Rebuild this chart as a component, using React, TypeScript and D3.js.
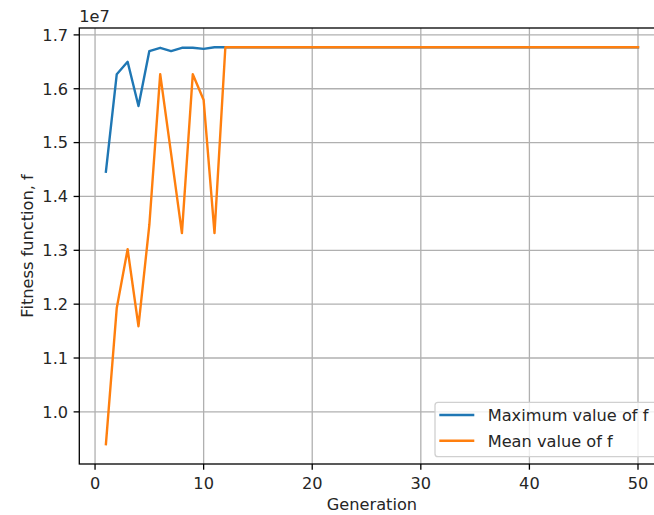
import React from "react";
import * as d3 from "d3";

const generations: number[] = Array.from({ length: 50 }, (_, i) => i + 1);
const maxEarly: number[] = [1.446, 1.627, 1.650, 1.568, 1.670, 1.676, 1.670, 1.676, 1.676, 1.674, 1.677, 1.677];
const meanEarly: number[] = [0.940, 1.193, 1.302, 1.159, 1.347, 1.627, 1.48, 1.332, 1.627, 1.579, 1.332, 1.677];
const plateau = 1.677;
const maxValues: number[] = generations.map((g, i) => (i < maxEarly.length ? maxEarly[i] : plateau));
const meanValues: number[] = generations.map((g, i) => (i < meanEarly.length ? meanEarly[i] : plateau));
const xTicks: number[] = [0, 10, 20, 30, 40, 50];
const yTicks: number[] = [1.0, 1.1, 1.2, 1.3, 1.4, 1.5, 1.6, 1.7];
const seriesNames: string[] = ["Maximum value of f", "Mean value of f"];
const colors: string[] = ["#1f77b4", "#ff7f0e"];

export default function App() {
  const W = 654, H = 515;
  const left = 79.3, right = 664.6, top = 28, bottom = 464;
  const x = d3.scaleLinear().domain([-1.45, 52.45]).range([left, right]);
  const y = d3.scaleLinear().domain([0.9032, 1.7128]).range([bottom, top]);
  const line = d3.line<number>().x((d, i) => x(generations[i])).y((d) => y(d));
  const font = "DejaVu Sans, sans-serif";
  const fs = 16.2;
  const tl = 5.7;
  const series = [maxValues, meanValues];
  return (
    <svg width={W} height={H} style={{ position: "absolute", left: 0, top: 0, background: "#fff" }} fontFamily={font}>
      <rect x={0} y={0} width={W} height={H} fill="#fff" />
      <defs>
        <clipPath id="plot"><rect x={left} y={top} width={right - left} height={bottom - top} /></clipPath>
      </defs>
      {xTicks.map((t) => (
        <line key={"gx" + t} x1={x(t)} x2={x(t)} y1={top} y2={bottom} stroke="#b0b0b0" strokeWidth={1.3} />
      ))}
      {yTicks.map((t) => (
        <line key={"gy" + t} x1={left} x2={right} y1={y(t)} y2={y(t)} stroke="#b0b0b0" strokeWidth={1.3} />
      ))}
      <g clipPath="url(#plot)">
        {series.map((s, k) => (
          <path key={k} d={line(s) || ""} fill="none" stroke={colors[k]} strokeWidth={2.4} strokeLinejoin="round" strokeLinecap="square" />
        ))}
      </g>
      <rect x={left} y={top} width={right - left} height={bottom - top} fill="none" stroke="#000" strokeWidth={1.3} />
      {xTicks.map((t) => (
        <g key={"tx" + t}>
          <line x1={x(t)} x2={x(t)} y1={bottom} y2={bottom + tl} stroke="#000" strokeWidth={1.3} />
          <text x={x(t)} y={489} textAnchor="middle" fontSize={fs} fill="#262626">{t}</text>
        </g>
      ))}
      {yTicks.map((t) => (
        <g key={"ty" + t}>
          <line x1={left - tl} x2={left} y1={y(t)} y2={y(t)} stroke="#000" strokeWidth={1.3} />
          <text x={left - tl - 5.5} y={y(t)} dy="0.36em" textAnchor="end" fontSize={fs} fill="#262626">{t.toFixed(1)}</text>
        </g>
      ))}
      <text x={left} y={22} fontSize={fs} fill="#262626">1e7</text>
      <text x={(left + right) / 2} y={510} textAnchor="middle" fontSize={fs} fill="#262626">Generation</text>
      <text transform={`translate(33,${(top + bottom) / 2}) rotate(-90)`} textAnchor="middle" fontSize={fs} fill="#262626">Fitness function, f</text>
      <g>
        <rect x={435} y={402.3} width={225} height={54.4} rx={3} fill="#fff" fillOpacity={0.8} stroke="#d0d0d0" strokeWidth={1.3} />
        {seriesNames.map((n, i) => (
          <g key={n}>
            <line x1={439.3} x2={474.3} y1={415 + i * 25.7} y2={415 + i * 25.7} stroke={colors[i]} strokeWidth={2.4} />
            <text x={487.7} y={415 + i * 25.7} dy="0.36em" fontSize={fs} fill="#262626">{n}</text>
          </g>
        ))}
      </g>
    </svg>
  );
}
